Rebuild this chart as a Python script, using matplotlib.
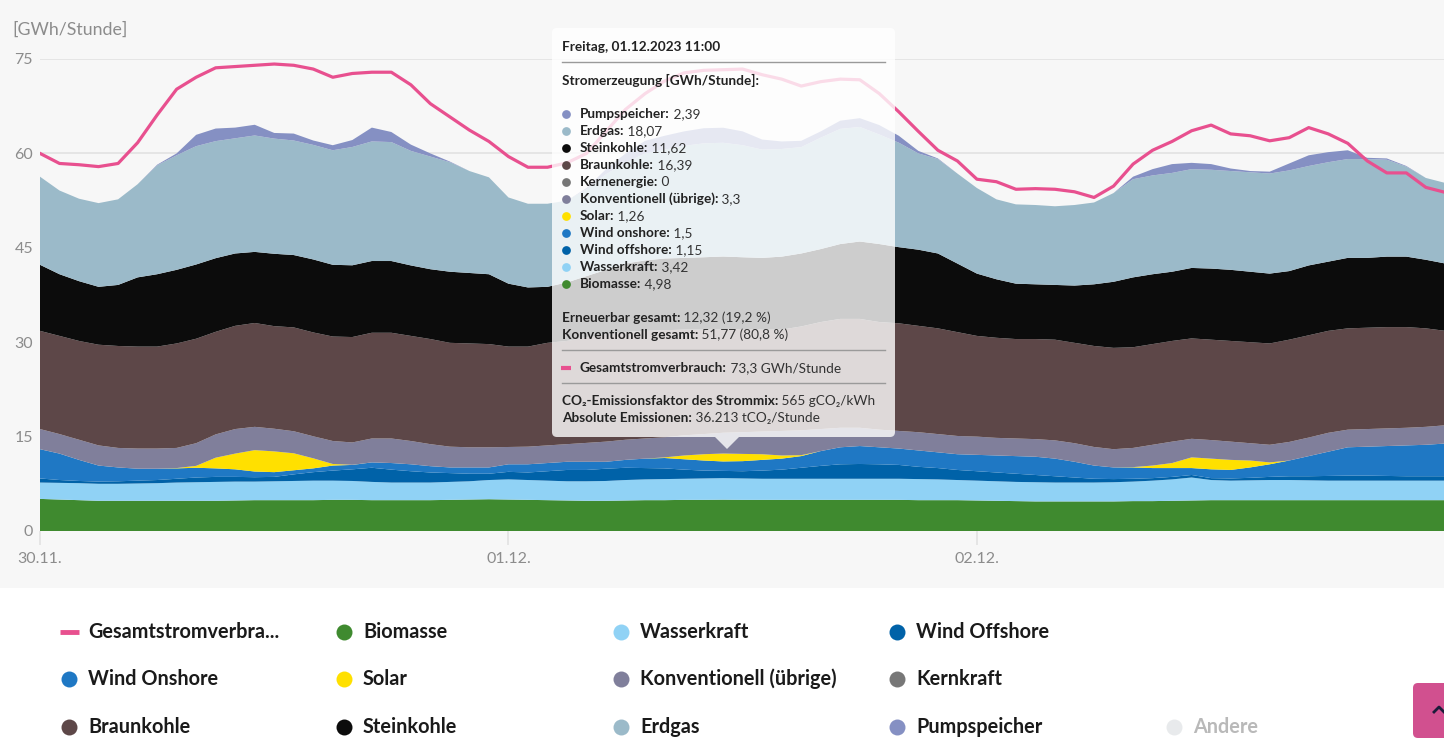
import numpy as np
import matplotlib
matplotlib.use("Agg")
import matplotlib.pyplot as plt
from matplotlib.patches import Rectangle, FancyBboxPatch, Polygon

FAM = ["Lato", "DejaVu Sans"]
plt.rcParams["font.family"] = FAM

W, H = 1444, 751
hours = np.arange(73)

biomasse = [5.1, 5.0, 4.9, 4.8, 4.8, 4.8, 4.8, 4.8, 4.8, 4.8,
            4.85, 4.9, 4.9, 4.9, 4.9, 4.95, 4.95, 4.9, 4.9, 4.9,
            4.9, 4.95, 5.0, 5.05, 5.0, 4.95, 4.9, 4.85, 4.8, 4.8,
            4.85, 4.9, 4.9, 4.95, 4.95, 4.98, 4.95, 4.95, 4.95, 4.95,
            4.95, 4.95, 4.95, 4.95, 4.95, 4.9, 4.9, 4.9, 4.85, 4.8,
            4.75, 4.7, 4.7, 4.7, 4.7, 4.7, 4.75, 4.75, 4.8, 4.85,
            4.9, 4.9, 4.9, 4.9, 4.9, 4.9, 4.9, 4.9, 4.9, 4.9,
            4.9, 4.9, 4.9]
wasser = [2.6, 2.65, 2.7, 2.7, 2.7, 2.75, 2.8, 2.9, 2.95, 3.0,
          3.0, 2.95, 3.0, 3.05, 3.1, 3.05, 3.0, 2.9, 2.8, 2.8,
          2.8, 2.85, 2.9, 3.05, 3.2, 3.15, 3.1, 3.05, 3.1, 3.15,
          3.25, 3.3, 3.35, 3.35, 3.4, 3.42, 3.4, 3.35, 3.35, 3.35,
          3.35, 3.35, 3.35, 3.35, 3.35, 3.35, 3.3, 3.2, 3.15, 3.1,
          3.05, 3.05, 3.0, 3.0, 3.0, 3.05, 3.1, 3.25, 3.4, 3.65,
          3.2, 3.1, 3.15, 3.2, 3.2, 3.15, 3.1, 3.1, 3.1, 3.1,
          3.1, 3.1, 3.1]
offshore = [0.65, 0.45, 0.35, 0.35, 0.4, 0.45, 0.5, 0.6, 0.75, 0.8,
            0.75, 0.7, 0.7, 1.05, 1.35, 1.6, 1.85, 2.25, 2.05, 1.8,
            1.6, 1.4, 1.2, 1.0, 1.2, 1.2, 1.5, 1.8, 1.8, 1.95,
            1.95, 1.8, 1.7, 1.45, 1.25, 1.15, 1.15, 1.3, 1.45, 1.75,
            2.05, 2.3, 2.35, 2.3, 2.2, 1.95, 1.8, 1.6, 1.5, 1.4,
            1.3, 1.15, 1.0, 0.8, 0.6, 0.5, 0.45, 0.4, 0.4, 0.4,
            0.3, 0.35, 0.4, 0.5, 0.6, 0.65, 0.75, 0.8, 0.8, 0.75,
            0.7, 0.7, 0.7]
onshore = [4.65, 4.2, 3.35, 2.55, 2.2, 1.9, 1.8, 1.65, 1.55, 1.35,
           1.2, 0.9, 0.75, 0.65, 0.6, 0.8, 0.7, 0.85, 1.05, 1.1,
           1.0, 0.9, 1.0, 1.0, 1.2, 1.3, 1.3, 1.3, 1.3, 1.1,
           1.25, 1.5, 1.65, 1.65, 1.6, 1.5, 1.6, 1.7, 1.75, 1.85,
           2.35, 2.7, 2.85, 2.7, 2.6, 2.6, 2.5, 2.5, 2.6, 2.7,
           2.8, 2.9, 2.8, 2.5, 2.1, 1.85, 1.8, 1.6, 1.4, 1.1,
           1.4, 1.35, 1.65, 2.0, 2.5, 3.2, 3.85, 4.5, 4.6, 4.75,
           4.9, 5.0, 5.2]
solar = [0, 0, 0, 0, 0, 0, 0, 0.05, 0.3, 1.7,
         2.5, 3.4, 3.3, 2.7, 1.6, 0.25, 0.02, 0, 0, 0,
         0, 0, 0, 0, 0, 0, 0, 0, 0, 0,
         0, 0, 0.1, 0.6, 1.0, 1.26, 1.15, 0.9, 0.5, 0.15,
         0, 0, 0, 0, 0, 0, 0, 0, 0, 0,
         0, 0, 0, 0, 0, 0, 0.05, 0.4, 0.8, 1.7,
         1.7, 1.6, 1.1, 0.3, 0, 0, 0, 0, 0, 0,
         0, 0, 0]
kern = [0] * 73
konv = [3.2, 3.1, 3.2, 3.2, 3.1, 3.2, 3.2, 3.2, 3.6, 3.7,
        3.9, 3.7, 3.6, 3.5, 3.5, 3.65, 3.55, 3.8, 3.9, 3.7,
        3.5, 3.3, 3.2, 3.2, 2.75, 2.8, 2.8, 2.8, 3.0, 3.2,
        3.2, 3.2, 3.2, 3.2, 3.2, 3.3, 3.45, 3.6, 3.9, 3.95,
        3.5, 3.1, 2.9, 2.8, 2.8, 2.9, 2.9, 2.9, 2.9, 2.8,
        2.8, 2.8, 2.9, 2.95, 2.95, 2.9, 3.05, 3.3, 3.4, 2.95,
        2.95, 2.9, 2.75, 2.8, 2.95, 2.95, 3.0, 2.8, 2.8, 2.8,
        2.8, 2.85, 2.9]
braun = [15.6, 15.6, 15.7, 16.0, 16.2, 16.2, 16.2, 16.6, 16.6, 16.3,
         16.4, 16.5, 16.3, 16.5, 16.5, 16.6, 16.75, 16.8, 16.8, 16.7,
         16.7, 16.5, 16.5, 16.4, 15.95, 15.9, 16.3, 16.4, 16.8, 17.1,
         17.1, 17.1, 17.0, 16.8, 16.6, 16.39, 16.4, 16.2, 16.1, 16.5,
         17.0, 17.3, 17.3, 17.1, 17.1, 16.9, 16.8, 16.5, 16.0, 15.9,
         15.8, 15.9, 16.0, 15.95, 16.05, 16.1, 16.0, 16.0, 16.0, 15.95,
         15.95, 16.0, 16.05, 16.1, 16.25, 16.25, 16.2, 16.1, 16.1, 16.1,
         16.0, 15.65, 15.0]
stein = [10.5, 9.8, 9.5, 9.2, 9.7, 11.0, 11.5, 11.7, 11.8, 11.7,
         11.5, 11.3, 11.5, 11.5, 11.6, 11.4, 11.4, 11.4, 11.4, 11.2,
         11.1, 11.3, 11.2, 11.1, 10.0, 9.4, 8.9, 9.3, 9.7, 10.2,
         10.9, 11.2, 11.4, 11.4, 11.5, 11.62, 11.4, 11.4, 11.6, 11.6,
         11.6, 11.9, 12.3, 12.4, 12.1, 12.1, 11.9, 10.9, 9.9, 9.3,
         8.8, 8.7, 8.7, 9.1, 9.8, 10.5, 11.1, 11.1, 11.0, 11.2,
         11.3, 11.3, 11.2, 11.1, 10.9, 11.1, 11.0, 11.2, 11.1, 11.2,
         11.2, 10.9, 10.7]
erdgas = [14.0, 13.3, 13.1, 13.3, 13.6, 14.8, 17.3, 18.2, 18.8, 18.6,
          18.3, 18.5, 18.3, 18.2, 18.2, 18.2, 18.8, 19.0, 18.9, 18.2,
          17.9, 17.4, 16.2, 15.4, 13.7, 13.3, 13.2, 13.0, 13.8, 15.2,
          16.0, 17.0, 17.3, 17.8, 18.1, 18.07, 17.8, 17.2, 17.1, 16.9,
          17.7, 18.3, 18.2, 17.4, 16.6, 15.3, 15.0, 14.3, 13.6, 12.7,
          12.6, 12.6, 12.5, 12.8, 13.0, 14.1, 15.6, 15.7, 15.7, 15.7,
          15.7, 15.7, 15.8, 15.9, 16.0, 15.8, 15.8, 15.7, 15.7, 15.4,
          14.3, 13.0, 12.8]
pump = [0, 0, 0, 0, 0, 0, 0.1, 0.3, 1.8, 2.0,
        1.7, 1.7, 0.9, 1.1, 0.7, 0.8, 1.1, 2.2, 1.6, 1.0,
        0.5, 0.1, 0, 0, 0, 0, 0, 0, 0.2, 0.8,
        1.5, 2.0, 2.2, 2.3, 2.4, 2.39, 2.2, 1.6, 1.2, 1.0,
        1.0, 1.3, 1.4, 1.5, 1.1, 0.4, 0.1, 0, 0, 0,
        0, 0, 0, 0, 0, 0, 0.4, 1.0, 1.4, 1.0,
        0.9, 0.4, 0.2, 0.3, 1.1, 1.7, 1.6, 1.4, 0.2, 0.2,
        0.1, 0, 0]
verbrauch = [60.0, 58.4, 58.2, 57.9, 58.4, 61.7, 66.1, 70.2, 72.1, 73.6,
             73.8, 74.0, 74.2, 74.0, 73.4, 72.1, 72.7, 72.9, 72.9, 70.9,
             67.9, 65.8, 63.7, 61.9, 59.5, 57.8, 57.8, 58.5, 60.0, 63.5,
             67.0, 69.5, 71.5, 72.8, 73.2, 73.3, 73.4, 72.5, 71.8, 70.7,
             71.4, 71.8, 71.7, 69.5, 66.6, 63.5, 60.5, 58.8, 55.9, 55.5,
             54.3, 54.4, 54.3, 53.9, 53.0, 54.8, 58.3, 60.5, 61.9, 63.6,
             64.5, 63.1, 62.8, 62.0, 62.5, 64.1, 63.1, 61.6, 58.8, 56.9,
             56.9, 54.6, 53.8]

c_bio = "#3f8a2f"
c_wasser = "#90d2f5"
c_off = "#0062a8"
c_on = "#1f78c4"
c_solar = "#ffe000"
c_kern = "#777777"
c_konv = "#807f9b"
c_braun = "#5d4748"
c_stein = "#0c0c0c"
c_gas = "#9bbac9"
c_pump = "#8590c3"
c_line = "#e8508f"

fig = plt.figure(figsize=(W / 100, H / 100), dpi=100)
fig.patch.set_facecolor("white")
fig.add_artist(Rectangle((0, 1 - 588 / H), 1, 588 / H, transform=fig.transFigure,
                         facecolor="#f7f7f7", edgecolor="none", zorder=-10))

ax = fig.add_axes([40 / W, 220 / H, 1404 / W, 472 / H])
ax.set_facecolor("#f7f7f7")
ax.stackplot(hours, biomasse, wasser, offshore, onshore, solar, kern, konv,
             braun, stein, erdgas, pump,
             colors=[c_bio, c_wasser, c_off, c_on, c_solar, c_kern, c_konv,
                     c_braun, c_stein, c_gas, c_pump], linewidth=0)
ax.plot(hours, verbrauch, color=c_line, lw=2.3, zorder=5)
ax.set_xlim(0, 71.93)
ax.set_ylim(0, 75)
ax.set_yticks([0, 15, 30, 45, 60, 75])
ax.grid(axis="y", color="#e4e4e4", lw=1.3)
ax.set_axisbelow(True)
for s in ax.spines.values():
    s.set_visible(False)
ax.tick_params(axis="y", length=0, pad=5, labelsize=11.5, labelcolor="#8c8c8c")
ax.set_xticks([0, 24, 48])
ax.set_xticklabels(["30.11.", "01.12.", "02.12."])
ax.tick_params(axis="x", length=10, color="#e4e4e4", width=1.3, labelsize=11.5,
               labelcolor="#8c8c8c", pad=5)

# overlay in pixel coordinates
ov = fig.add_axes([0, 0, 1, 1], zorder=10)
ov.set_xlim(0, W)
ov.set_ylim(H, 0)
ov.axis("off")
ov.patch.set_alpha(0)

ov.text(12, 30, "[GWh/Stunde]", fontsize=12.8, color="#8c8c8c", va="center", ha="left")

# tooltip
ov.add_patch(FancyBboxPatch((552, 28), 343, 409, boxstyle="round,pad=0,rounding_size=5",
                            facecolor="white", edgecolor="none", alpha=0.8, zorder=20))
ov.add_patch(Polygon([(715, 437), (739, 437), (727, 449)], closed=True,
                     facecolor="white", edgecolor="none", alpha=0.8, zorder=20))

r = fig.canvas.get_renderer()
TS = 9.8


def rich(x, y, bold, normal):
    t = ov.text(x, y, bold, fontsize=TS, fontweight="bold", color="#222222",
                va="center", ha="left", zorder=21)
    bb = t.get_window_extent(r)
    x1 = ov.transData.inverted().transform((bb.x1, bb.y0))[0]
    if normal:
        ov.text(x1, y, " " + normal, fontsize=TS, color="#333333",
                va="center", ha="left", zorder=21)


rich(562, 47, "Freitag, 01.12.2023 11:00", "")
ov.plot([562, 885], [62, 62], color="#9a9a9a", lw=1, zorder=21)
rich(562, 80, "Stromerzeugung [GWh/Stunde]:", "")

tip_names = ["Pumpspeicher:", "Erdgas:", "Steinkohle:", "Braunkohle:", "Kernenergie:",
             "Konventionell (übrige):", "Solar:", "Wind onshore:", "Wind offshore:",
             "Wasserkraft:", "Biomasse:"]
tip_vals = ["2,39", "18,07", "11,62", "16,39", "0", "3,3", "1,26", "1,5", "1,15", "3,42", "4,98"]
tip_cols = [c_pump, c_gas, c_stein, c_braun, c_kern, c_konv, c_solar, c_on, c_off,
            c_wasser, c_bio]
for i, (n, v, c) in enumerate(zip(tip_names, tip_vals, tip_cols)):
    y = 114 + i * 17
    ov.plot(566, y, "o", ms=6.3, color=c, mec="none", zorder=21)
    rich(580, y, n, v)

rich(562, 318, "Erneuerbar gesamt:", "12,32 (19,2 %)")
rich(562, 335, "Konventionell gesamt:", "51,77 (80,8 %)")
ov.plot([562, 885], [350, 350], color="#9a9a9a", lw=1, zorder=21)
ov.plot([561, 571], [368, 368], color=c_line, lw=3, solid_capstyle="butt", zorder=21)
rich(580, 368, "Gesamtstromverbrauch:", "73,3 GWh/Stunde")
ov.plot([562, 885], [383, 383], color="#9a9a9a", lw=1, zorder=21)
rich(562, 401, "CO\u2082-Emissionsfaktor des Strommix:", "565 gCO\u2082/kWh")
rich(562, 418, "Absolute Emissionen:", "36.213 tCO\u2082/Stunde")

# legend
leg_x = [69, 344, 621, 897, 1174]
leg_y = [632, 679, 727]
leg_rows = [
    [("Gesamtstromverbra...", c_line, "line"), ("Biomasse", c_bio, "o"),
     ("Wasserkraft", c_wasser, "o"), ("Wind Offshore", c_off, "o")],
    [("Wind Onshore", c_on, "o"), ("Solar", c_solar, "o"),
     ("Konventionell (übrige)", c_konv, "o"), ("Kernkraft", c_kern, "o")],
    [("Braunkohle", c_braun, "o"), ("Steinkohle", c_stein, "o"),
     ("Erdgas", c_gas, "o"), ("Pumpspeicher", c_pump, "o"), ("Andere", "#e8eaec", "o")],
]
for j, row in enumerate(leg_rows):
    for i, (lab, col, kind) in enumerate(row):
        x, y = leg_x[i], leg_y[j]
        if kind == "line":
            ov.plot([60, 79], [y, y], color=col, lw=3.5, solid_capstyle="butt")
        else:
            ov.plot(x, y, "o", ms=11.5, color=col, mec="none")
        tc = "#b9b9b9" if lab == "Andere" else "#1a1a1a"
        ov.text(x + 19, y, lab, fontsize=14.3, fontweight="bold", color=tc,
                va="center", ha="left")

# scroll-to-top button
ov.add_patch(FancyBboxPatch((1413, 683), 45, 55, boxstyle="round,pad=0,rounding_size=5",
                            facecolor="#d1508f", edgecolor="none"))
ov.plot([1434, 1439, 1444], [712, 707, 712], color="#1c1c3a", lw=2)

fig.savefig("out.png", dpi=100, facecolor=fig.get_facecolor())
